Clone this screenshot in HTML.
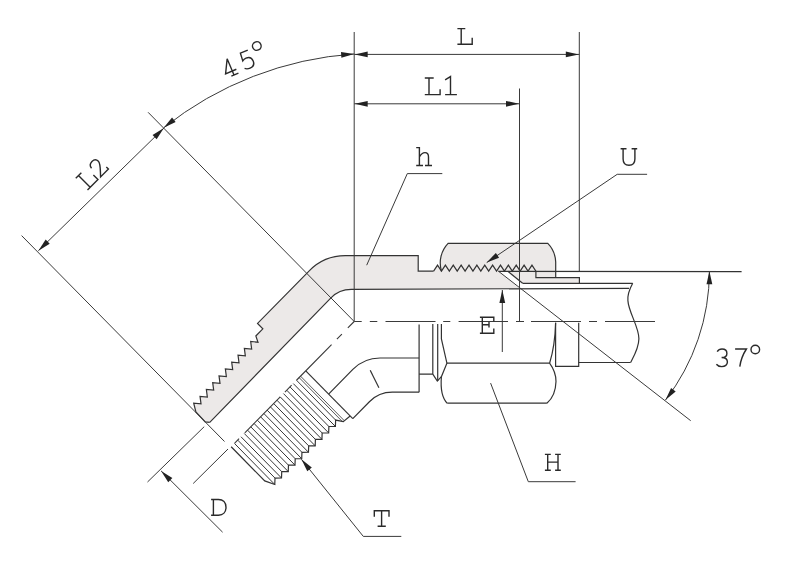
<!DOCTYPE html>
<html><head><meta charset="utf-8"><style>
html,body{margin:0;padding:0;background:#fff;width:810px;height:567px;overflow:hidden;font-family:"Liberation Sans",sans-serif}
svg{display:block}
.fill{fill:#ece9e8;stroke:none}
.m{fill:none;stroke:#333;stroke-width:1.2;stroke-linejoin:miter}
.t{fill:none;stroke:#3a3a3a;stroke-width:1}
.c{fill:none;stroke:#3a3a3a;stroke-width:1.1}
.h{fill:none;stroke:#333;stroke-width:1}
.h1{fill:none;stroke:#3a3a3a;stroke-width:1}
.h2{fill:none;stroke:#444;stroke-width:0.9}
.ah{fill:#222;stroke:none}
.gl{fill:none;stroke:#2a2a2a;stroke-width:1.4;stroke-linecap:butt;stroke-linejoin:miter}
</style></head><body>
<svg width="810" height="567" viewBox="0 0 810 567">
<path class="fill" d="M309.22,270.84 A50.58,50.58 0 0 1 345.3,255.7 L418.2,255.7 L418.2,271.2 L433.6,271.2 L437.53,265.2 L441.47,271.2 A28.2,28.2 0 0 1 448.1,243.4 L547.8,243.4 A28.2,28.2 0 0 1 555.7,262 L555.7,277.7 L579.4,277.7 L579.4,283.3 L522.6,283.3 L507.8,271.2 L498.4,271.2 L519.6,288.6 L351.2,289.4 A28.59,28.59 0 0 0 330.71,298.05 L209.74,422.35 L209.74,422.35 L205.21,421.92 L195.88,411.84 L193.7,403.23 L201.02,403.92 L200.03,396.37 L207.35,397.06 L206.36,389.51 L213.68,390.2 L212.69,382.66 L220.01,383.34 L219.02,375.8 L226.35,376.49 L225.36,368.94 L232.68,369.63 L231.69,362.08 L239.01,362.77 L238.02,355.23 L245.34,355.91 L244.35,348.37 L251.67,349.06 L250.68,341.51 L258,342.2 L255.84,335.97 L262.84,328.84 L257.54,323.44 Z"/>
<path class="m" d="M309.22,270.84 A50.58,50.58 0 0 1 345.3,255.7 L418.2,255.7 L418.2,271.2 L433.6,271.2"/>
<path class="m" d="M309.22,270.84 L257.54,323.44 L262.84,328.84 L255.84,335.97 L258,342.2 L250.68,341.51 L251.67,349.06 L244.35,348.37 L245.34,355.91 L238.02,355.23 L239.01,362.77 L231.69,362.08 L232.68,369.63 L225.36,368.94 L226.35,376.49 L219.02,375.8 L220.01,383.34 L212.69,382.66 L213.68,390.2 L206.36,389.51 L207.35,397.06 L200.03,396.37 L201.02,403.92 L193.7,403.23 L195.88,411.84 L205.21,421.92 L209.74,422.35"/>
<path class="m" d="M629,288.3 L351.2,289.4 A28.59,28.59 0 0 0 330.71,298.05 L209.74,422.35"/>
<path class="m" d="M433.6,271.2 L437.53,265.2 L441.47,271.2 L445.4,265.2 L449.34,271.2 L453.27,265.2 L457.21,271.2 L461.14,265.2 L465.08,271.2 L469.01,265.2 L472.95,271.2 L476.88,265.2 L480.82,271.2 L484.75,265.2 L488.68,271.2 L492.62,265.2 L496.55,271.2 L500.49,265.2 L504.42,271.2 L508.36,265.2 L512.29,271.2 L516.23,265.2 L520.16,271.2 L524.1,265.2 L528.03,271.2 L531.97,265.2 L535.9,271.2 L535.9,277.7 L579.4,277.7 L579.4,283.3"/>
<path class="m" d="M441.5,271.2 A28.2,28.2 0 0 1 448.1,243.4 L547.8,243.4 A28.2,28.2 0 0 1 555.7,262 L555.7,277.7"/>
<path class="m" d="M498.4,271.4 L741.6,271.6"/>
<path class="m" d="M522.6,283.3 L632.7,283.3"/>
<path class="m" d="M507.8,271.2 L522.6,283.3"/>
<path class="m" d="M578.7,362.5 L630.6,362.5"/>
<path class="m" d="M632.7,283.2 C629,290 627.5,296 627.9,300.6 C628.5,312 639,327 638.9,338.7 C638.8,348 634,356 630.6,362.5"/>
<path class="t" d="M498.4,271.2 L690.7,420.7"/>
<path class="m" d="M419.1,324.4 L419.1,392.2"/>
<path class="m" d="M419.1,358 L380,358 A38.09,38.09 0 0 0 352.83,369.4 L328.6,394.06"/>
<path class="m" d="M419.1,392.2 L392.2,392.2 A31.96,31.96 0 0 0 369.4,401.76 L352.79,418.68"/>
<path class="m" d="M370.2,370.3 L378.9,387.8"/>
<path class="m" d="M419.1,374.1 L432.8,374.1 L432.8,324 M432.8,374.1 L437.3,381.1 L441.4,376.7"/>
<path class="m" d="M437.7,324 L437.7,381.1"/>
<path class="m" d="M441.4,324 L441.4,339 L446.9,363.2 L441.4,376.7 C440.3,390 443,399 447.3,403.3"/>
<path class="m" d="M446.9,363.2 L549.6,363.2 M447.3,403.2 L546.9,403.2"/>
<path class="m" d="M555.6,322.8 L555.6,366.4 L578.7,366.4 L578.7,322.8"/>
<path class="m" d="M555.6,322.8 Q555,346 549.6,363.2 Q556,372 556,381.5 Q555.6,396 546.9,403.2"/>
<path class="m" d="M305.76,370.81 L352.79,418.68"/>
<path class="h2" d="M300.53,376.14 L344.3,420.69"/>
<path class="h2" d="M299.12,377.58 L342.82,422.06"/>
<path class="m" d="M350.17,416.01 L343.24,421.63 L335.63,420.08 L335.39,426.45 L328.9,426.52 L328.65,432.9 L322.16,432.97 L321.92,439.34 L315.42,439.41 L315.18,445.79 L308.69,445.86 L308.45,452.23 L301.95,452.3 L301.71,458.68 L295.22,458.75 L294.97,465.12 L288.48,465.19 L288.24,471.57 L281.74,471.64 L281.5,478.01 L275.01,478.08 L274.77,484.46 L264.75,480.94 L231.16,446.75"/>
<path class="h1" d="M296.5,380.24 L335.63,420.08"/>
<path class="h" d="M293.25,383.55 L335.39,426.45"/>
<path class="h1" d="M289.97,386.89 L328.9,426.52"/>
<path class="h" d="M286.71,390.2 L328.65,432.9"/>
<path class="h1" d="M283.43,393.54 L322.16,432.97"/>
<path class="h" d="M280.18,396.85 L321.92,439.34"/>
<path class="h1" d="M276.9,400.19 L315.42,439.41"/>
<path class="h" d="M273.65,403.5 L315.18,445.79"/>
<path class="h1" d="M270.37,406.84 L308.69,445.86"/>
<path class="h" d="M267.11,410.15 L308.45,452.23"/>
<path class="h1" d="M263.83,413.49 L301.95,452.3"/>
<path class="h" d="M260.58,416.81 L301.71,458.68"/>
<path class="h1" d="M257.3,420.15 L295.22,458.75"/>
<path class="h" d="M254.05,423.46 L294.97,465.12"/>
<path class="h1" d="M250.76,426.8 L288.48,465.19"/>
<path class="h" d="M247.51,430.11 L288.24,471.57"/>
<path class="h1" d="M244.23,433.45 L281.74,471.64"/>
<path class="h" d="M240.98,436.76 L281.5,478.01"/>
<path class="h1" d="M237.7,440.1 L275.01,478.08"/>
<path class="h" d="M234.44,443.41 L274.77,484.46"/>
<path class="c" d="M354.2,321.5 L347.84,327.98 M341.9,334.03 L336.88,339.14 M331.57,344.53 L296.5,380.24 M291.62,385.21 L284.9,392.04 M280.24,396.79 L244.81,432.86 M239.08,438.69 L234.7,443.15"/>
<path class="c" d="M354.2,321.5 L361.7,321.5 M369.8,321.5 L377.3,321.5 M385.5,321.5 L435.5,321.5 M443.2,321.5 L450.3,321.5 M458.6,321.5 L508,321.5 M516,321.5 L524,321.5 M531,321.5 L581,321.5 M589,321.5 L597,321.5 M605,321.5 L655,321.5"/>
<path class="t" d="M354.2,32 L354.2,321.5"/>
<path class="t" d="M519.5,88.5 L519.5,321.5"/>
<path class="t" d="M579.3,32 L579.3,271.2"/>
<path class="t" d="M148.1,112.3 L354.2,321.5"/>
<path class="t" d="M21.6,235.6 L224.5,441.5"/>
<path class="t" d="M204.2,426.7 L147.5,482"/>
<path class="t" d="M228,449 L193.2,483.5"/>
<path class="t" d="M354.2,54.4 L579.3,54.4"/>
<path class="ah" d="M354.7,54.4 L367.7,51.5 L367.7,57.3 Z"/>
<path class="ah" d="M578.8,54.4 L565.8,57.3 L565.8,51.5 Z"/>
<path class="t" d="M354.2,103.8 L519.5,103.8"/>
<path class="ah" d="M354.7,103.8 L367.7,100.9 L367.7,106.7 Z"/>
<path class="ah" d="M519,103.8 L506,106.7 L506,100.9 Z"/>
<path class="t" d="M163.9,128.1 L38.4,250.7"/>
<path class="ah" d="M163.9,128.1 L156.63,139.26 L152.57,135.11 Z"/>
<path class="ah" d="M38.4,250.7 L45.67,239.54 L49.73,243.69 Z"/>
<path class="t" d="M161.1,470.9 L222.6,532.2"/>
<path class="ah" d="M161.1,470.9 L172.35,478.02 L168.26,482.13 Z"/>
<path class="t" d="M502.3,290 L502.3,352"/>
<path class="ah" d="M502.3,290 L505.2,303 L499.4,303 Z"/>
<path class="t" d="M163.68,127.82 A342.5,342.5 0 0 1 354.17,53.97"/>
<path class="ah" d="M163.68,127.82 L172.04,117.45 L175.65,121.99 Z"/>
<path class="ah" d="M354.17,53.97 L341.39,57.73 L341.01,51.95 Z"/>
<path class="t" d="M709.4,271.2 A211,211 0 0 1 665.44,400.11"/>
<path class="ah" d="M709.4,271.2 L712.3,284.2 L706.5,284.2 Z"/>
<path class="ah" d="M665.44,400.11 L671.09,388.05 L675.68,391.59 Z"/>
<path class="t" d="M366.7,265.2 L407.3,173.6 L442.3,173.6"/>
<path class="t" d="M486.7,262.6 L617.2,174.3 L647.1,174.3"/>
<path class="ah" d="M486.7,262.6 L495.84,252.91 L499.09,257.72 Z"/>
<path class="t" d="M490.6,383.1 L528.3,481.7 L575.6,481.7"/>
<path class="t" d="M301.4,459.3 L363.3,536.4 L401.3,536.4"/>
<path class="ah" d="M301.4,459.3 L311.8,467.62 L307.28,471.25 Z"/>
<path class="gl" d="M457.4,28.6 H465.3 M461.2,28.6 V44.3 M457.4,44.3 H472.2 V37.8"/>
<path class="gl" d="M424.8,78 H433.7 M429,78 V94.6 M424.8,94.6 H440.1 V89.2"/>
<path class="gl" d="M445.1,79.8 L450.5,76.6 V94.6 M445.1,94.6 H456.9"/>
<path class="gl" d="M416.2,147.6 H419.4 V165.5 M416.2,165.5 H423 M419.4,157 C421,154 423,152.6 425,152.6 C427.5,152.6 428.5,154.5 428.5,157 V165.5 M425,165.5 H432"/>
<path class="gl" d="M620.6,148.8 H626.5 M631.6,148.8 H637.2 M623.1,148.8 V159 C623.1,163 625.5,165.2 629,165.2 C632.5,165.2 634.9,163 634.9,159 V148.8"/>
<path class="gl" d="M479.9,317.3 H493.8 V321.6 M482.3,317.3 V333.3 M479.9,333.3 H493.8 V328.6 M482.3,324.8 H489 M489,322 V327.6"/>
<path class="gl" d="M544.9,454.4 H550.8 M555.1,454.4 H560.8 M544.9,470.2 H550.8 M555.1,470.2 H560.8 M547.7,454.4 V470.2 M558,454.4 V470.2 M547.7,462.1 H558"/>
<path class="gl" d="M211.1,499.5 H218.5 C223,499.5 226,502.5 226,507.3 C226,512.2 223,515.2 218.5,515.2 H211.1 M213.4,499.5 V515.2"/>
<path class="gl" d="M374.3,516.7 V510.8 H389 V516.7 M381.6,510.8 V526.2 M377.6,526.2 H385.8"/>
<path class="gl" d="M0,-16.6 H7.9 M3.8,-16.6 V0 M0,0 H14.8 V-6.5 M18.2,-12.5 C18.5,-15.5 20.5,-17 23.3,-17 C26.3,-17 28,-15.2 28,-12.6 C28,-9.5 25,-7 18.5,0 H29.6 V-3" transform="translate(87.5,190) rotate(-45)"/>
<path class="gl" d="M0.8,-15 C1.9,-16.8 3.7,-17.6 5.6,-17.6 C8.6,-17.6 10.5,-15.8 10.5,-13.2 C10.5,-10.6 8.6,-9.1 5.2,-9.1 C9.1,-9.1 11,-7.1 11,-4.6 C11,-1.7 8.7,0 5.4,0 C3.2,0 1.3,-0.7 0,-2.4" transform="translate(716.4,366.6)"/>
<path class="gl" d="M0.3,-17.6 H11.6 C8,-12 5.8,-6 5,0" transform="translate(734.8,366.6)"/>
<path class="gl" d="M-4.3,0 A4.3,4.3 0 1 0 4.3,0 A4.3,4.3 0 1 0 -4.3,0" transform="translate(755.3,349.5)"/>
<path class="gl" d="M7.4,0 V-17.6 L0.1,-4.4 H11.8 M4.5,0 H12.2 M29.8,-17.6 H21.8 L21,-9.6 C22.2,-10.4 23.5,-10.8 25,-10.8 C28.3,-10.8 30.5,-8.6 30.5,-5.4 C30.5,-2.1 28.2,0 24.9,0 C22.9,0 21,-0.7 19.7,-1.9" transform="translate(227.2,77.9) rotate(-23)"/>
<path class="gl" d="M-4.3,0 A4.3,4.3 0 1 0 4.3,0 A4.3,4.3 0 1 0 -4.3,0" transform="translate(227.2,77.9) rotate(-23) translate(39.7,-17.8)"/>
</svg>
</body></html>
